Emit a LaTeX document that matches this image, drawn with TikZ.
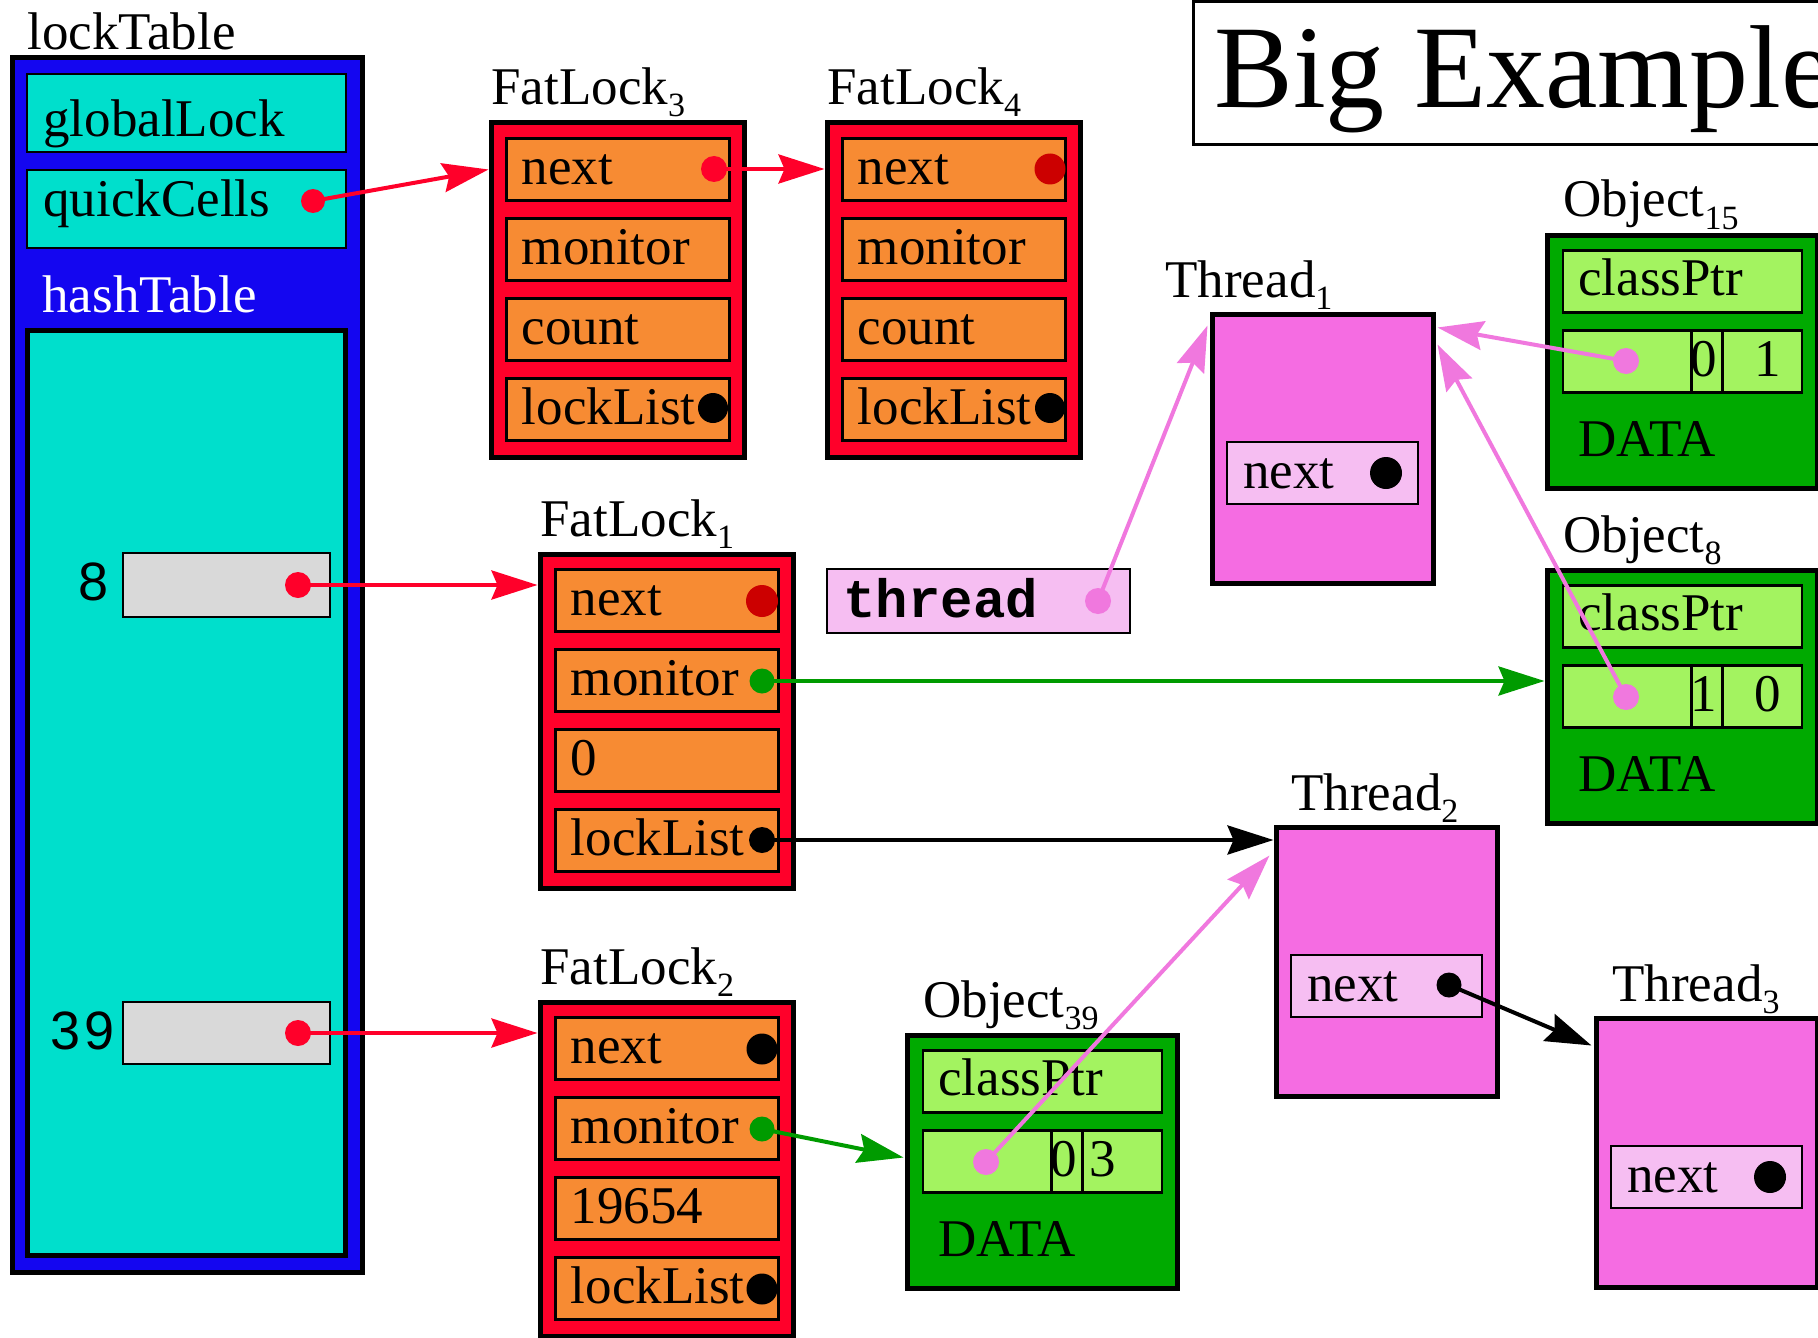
\documentclass[tikz,border=0pt]{standalone}
\usepackage{fontspec}
\setmainfont{Liberation Serif}
\setsansfont{Liberation Sans}
\setmonofont{Liberation Mono}
\usetikzlibrary{fit,arrows.meta}

\definecolor{tableblue}{RGB}{20,6,240}
\definecolor{cellcyan}{RGB}{0,223,204}
\definecolor{slotgray}{RGB}{217,217,217}
\definecolor{lockred}{RGB}{255,0,42}
\definecolor{fieldorange}{RGB}{247,139,51}
\definecolor{darkdot}{RGB}{204,0,0}
\definecolor{threadpink}{RGB}{245,108,226}
\definecolor{fieldpink}{RGB}{246,190,242}
\definecolor{ptrpink}{RGB}{240,120,222}
\definecolor{objgreen}{RGB}{0,170,0}
\definecolor{fieldgreen}{RGB}{163,243,96}
\definecolor{ptrgreen}{RGB}{0,155,0}

% lowered small index used in the record names
\newcommand\lowsub[1]{\raisebox{-6pt}{\fontsize{17}{17}\selectfont #1}}

% a FatLock record: name, left, top, label, four field texts
\newcommand\FatLockBox[8]{%
  \node[lockbox, fit={(#2,#3) (#2+253,#3+334)}] (#1) {};
  \node[txt] (#1-label) at (#2,#3-18) {#4};
  \node[lockfield, fit={(#2+15.5,#3+15.5) (#2+238.5,#3+77.5)}] (#1-1) {};
  \node[lockfield, fit={(#2+15.5,#3+95.5) (#2+238.5,#3+157.5)}] (#1-2) {};
  \node[lockfield, fit={(#2+15.5,#3+175.5) (#2+238.5,#3+237.5)}] (#1-3) {};
  \node[lockfield, fit={(#2+15.5,#3+255.5) (#2+238.5,#3+317.5)}] (#1-4) {};
  \node[txt] (#1-1t) at (#2+30.5,#3+61.5) {#5};
  \node[txt] (#1-2t) at (#2+30.5,#3+141.5) {#6};
  \node[txt] (#1-3t) at (#2+30.5,#3+221.5) {#7};
  \node[txt] (#1-4t) at (#2+30.5,#3+301.5) {#8};
}

% a Thread record: name, left, top, label x, label
\newcommand\ThreadBox[5]{%
  \node[threadbox, fit={(#2,#3) (#2+221,#3+269)}] (#1) {};
  \node[threadfield, fit={(#2+15,#3+128) (#2+206,#3+190)}] (#1-f) {};
  \node[txt] (#1-ft) at (#2+31,#3+174) {next};
  \node[txt] (#1-label) at (#4,#3-17) {#5};
}

% an Object record: name, left, top, label, middle digit, right digit, right digit x offset
\newcommand\ObjectBox[7]{%
  \node[objbox, fit={(#2,#3) (#2+270,#3+253)}] (#1) {};
  \node[txt] (#1-label) at (#2+16,#3-18) {#4};
  \node[objfield, fit={(#2+16,#3+15.5) (#2+255,#3+77.5)}] (#1-cls) {};
  \node[txt] (#1-clst) at (#2+31,#3+60.5) {classPtr};
  \node[objfield, fit={(#2+16,#3+95.5) (#2+144.5,#3+157.5)}] (#1-ptr) {};
  \node[objfield, fit={(#2+144.5,#3+95.5) (#2+175.5,#3+157.5)}] (#1-hi) {};
  \node[objfield, fit={(#2+175.5,#3+95.5) (#2+255,#3+157.5)}] (#1-lo) {};
  \node[txt, anchor=base] (#1-hit) at (#2+157,#3+141.5) {#5};
  \node[txt, anchor=base] (#1-lot) at (#2+#7,#3+141.5) {#6};
  \node[txt] (#1-data) at (#2+31,#3+221) {DATA};
}

\begin{document}
\begin{tikzpicture}[x=0.5pt,y=-0.5pt,
  heavy/.style={draw=black, line width=2.5pt, inner sep=0pt},
  light/.style={draw=black, line width=1.3pt, inner sep=0pt},
  lockbox/.style={heavy, fill=lockred},
  lockfield/.style={light, fill=fieldorange},
  threadbox/.style={heavy, fill=threadpink},
  threadfield/.style={light, fill=fieldpink},
  objbox/.style={heavy, fill=objgreen},
  objfield/.style={light, fill=fieldgreen},
  txt/.style={anchor=base west, inner sep=0pt, font=\fontsize{26.5}{30}\selectfont},
  dot/.style={circle, fill=#1, inner sep=0pt, outer sep=0pt},
  ptr/.style={line width=2pt, -{Stealth[length=23pt,width=14.5pt,inset=3pt]}}]

\useasboundingbox (0,0) rectangle (1818,1337);
\clip (0,0) rectangle (1818,1337);

% title
\node[draw=black, line width=1.5pt, fill=white, inner sep=0pt, fit={(1193,2) (1880,145)}] (title) {};
\node[anchor=base west, inner sep=0pt, font=\fontsize{59}{64}\selectfont] (titlet) at (1214,108) {Big Example};

% lock table
\node[heavy, fill=tableblue, fit={(12,58) (362,1272)}] (lt) {};
\node[txt] (lt-label) at (27,50) {lockTable};
\node[light, fill=cellcyan, fit={(27,74) (346,152)}] (gl) {};
\node[txt] (gl-t) at (43,137) {globalLock};
\node[light, fill=cellcyan, fit={(27,170) (346,248)}] (qcf) {};
\node[txt] (qcf-t) at (43,217) {quickCells};
\node[txt, text=white] (ht-label) at (42,312) {hashTable};
\node[heavy, fill=cellcyan, fit={(27,330) (345,1255)}] (ht) {};
\node[light, line width=1.1pt, fill=slotgray, fit={(123,553) (330,617)}] (s8) {};
\node[anchor=base east, inner sep=0pt, font=\sffamily\fontsize{27}{30}\selectfont] (s8-t) at (109,600) {8};
\node[light, line width=1.1pt, fill=slotgray, fit={(123,1002) (330,1064)}] (s39) {};
\node[anchor=base east, inner sep=0pt, font=\sffamily\fontsize{27}{30}\selectfont] (s39-t) at (115,1049) {3\hspace{2pt}9};

% fat locks
\FatLockBox{fl3}{491}{123}{FatLock\lowsub{3}}{next}{monitor}{count}{lockList}
\FatLockBox{fl4}{827}{123}{FatLock\lowsub{4}}{next}{monitor}{count}{lockList}
\FatLockBox{fl1}{540}{554}{FatLock\lowsub{1}}{next}{monitor}{0}{lockList}
\FatLockBox{fl2}{540}{1002}{FatLock\lowsub{2}}{next}{monitor}{19654}{lockList}

% threads
\ThreadBox{thr1}{1212}{314}{1165}{Thread\lowsub{1}}
\ThreadBox{thr2}{1276}{827}{1291}{Thread\lowsub{2}}
\ThreadBox{thr3}{1596}{1018}{1612}{Thread\lowsub{3}}

% objects
\ObjectBox{obj15}{1547}{235}{Object\lowsub{15}}{0}{1}{220.5}
\ObjectBox{obj8}{1547}{570}{Object\lowsub{8}}{1}{0}{220.5}
\ObjectBox{obj39}{907}{1035}{Object\lowsub{39}}{0}{3}{196}

% thread variable
\node[light, fill=fieldpink, fit={(827,569) (1130,633)}] (tv) {};
\node[anchor=base west, inner sep=0pt, font=\ttfamily\bfseries\fontsize{27}{30}\selectfont] (tv-t) at (843,617) {thread};

% pointer dots
\node[dot=lockred, minimum size=12pt] (qc) at (313,201) {};
\node[dot=lockred, minimum size=13pt] (fl3n) at (714,169) {};
\node[dot=darkdot, minimum size=15.5pt] (fl4n) at (1050,169) {};
\node[dot=black, minimum size=15pt] (fl3l) at (713,408) {};
\node[dot=black, minimum size=15pt] (fl4l) at (1050,408) {};
\node[dot=lockred, minimum size=13pt] (h8) at (298,585) {};
\node[dot=lockred, minimum size=13pt] (h39) at (298,1033) {};
\node[dot=darkdot, minimum size=16pt] (fl1n) at (762,601) {};
\node[dot=ptrgreen, minimum size=12.5pt] (fl1m) at (762,681) {};
\node[dot=black, minimum size=13pt] (fl1l) at (762,840) {};
\node[dot=black, minimum size=15.5pt] (fl2n) at (762,1049) {};
\node[dot=ptrgreen, minimum size=12.5pt] (fl2m) at (762,1129) {};
\node[dot=black, minimum size=15.5pt] (fl2l) at (762,1289) {};
\node[dot=ptrpink, minimum size=13pt] (tvd) at (1098,601) {};
\node[dot=black, minimum size=16pt] (thr1n) at (1386,473) {};
\node[dot=black, minimum size=12.5pt] (thr2n) at (1449,985) {};
\node[dot=black, minimum size=16pt] (thr3n) at (1770,1177) {};
\node[dot=ptrpink, minimum size=13pt] (o15d) at (1626,361) {};
\node[dot=ptrpink, minimum size=13pt] (o8d) at (1626,697) {};
\node[dot=ptrpink, minimum size=13pt] (o39d) at (986,1162) {};

% pointers
\draw[ptr, lockred] (qc.center) -- (fl3-1 -| fl3.west);
\draw[ptr, lockred] (fl3n.center) -- (fl3n -| fl4.west);
\draw[ptr, lockred] (h8.center) -- (h8 -| fl1.west);
\draw[ptr, lockred] (h39.center) -- (h39 -| fl2.west);
\draw[ptr, ptrgreen] (fl1m.center) -- (fl1m -| obj8.west);
\draw[ptr, black] (fl1l.center) -- (fl1l -| thr2.west);
\draw[ptr, ptrgreen] (fl2m.center) -- ([shift={(-1,125)}]obj39.north west);
\draw[ptr, black] (thr2n.center) -- ([shift={(-2,30)}]thr3.north west);
\draw[ptr, ptrpink] (tvd.center) -- ([shift={(-2,14)}]thr1.north west);
\draw[ptr, ptrpink] (o15d.center) -- ([shift={(2,16)}]thr1.north east);
\draw[ptr, ptrpink] (o8d.center) -- ([shift={(2,33)}]thr1.north east);
\draw[ptr, ptrpink] (o39d.center) -- ([shift={(-4,31)}]thr2.north west);
\end{tikzpicture}
\end{document}
